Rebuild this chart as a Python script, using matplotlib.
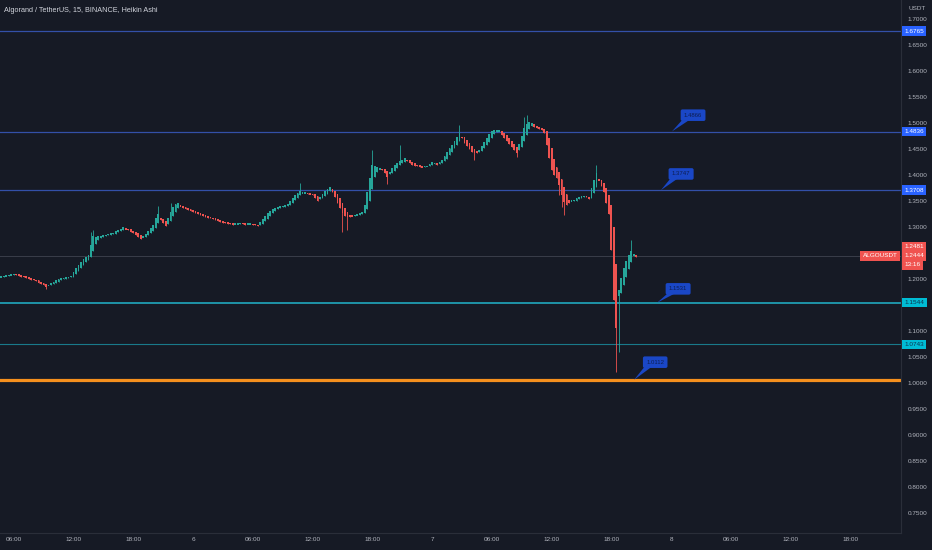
import matplotlib
matplotlib.use("Agg")
import matplotlib.pyplot as plt
import matplotlib.transforms as mtransforms
from matplotlib.patches import Polygon
import numpy as np

plt.rcParams['font.family'] = ['Liberation Sans', 'DejaVu Sans']

# Heikin Ashi closes, one per 15 min candle
ha_close = [
    1.204, 1.206, 1.206, 1.208, 1.208, 1.210, 1.208, 1.206, 1.204, 1.204,
    1.202, 1.200, 1.198, 1.198, 1.196, 1.192, 1.190, 1.188, 1.185, 1.188,
    1.192, 1.194, 1.198, 1.200, 1.202, 1.202, 1.204, 1.204, 1.206, 1.213,
    1.221, 1.227, 1.233, 1.238, 1.242, 1.246, 1.265, 1.283, 1.281, 1.283,
    1.283, 1.285, 1.285, 1.287, 1.287, 1.288, 1.292, 1.294, 1.296, 1.300,
    1.296, 1.294, 1.290, 1.288, 1.285, 1.281, 1.277, 1.281, 1.287, 1.292,
    1.298, 1.304, 1.317, 1.325, 1.313, 1.308, 1.302, 1.317, 1.329, 1.338,
    1.344, 1.346, 1.340, 1.337, 1.335, 1.333, 1.331, 1.329, 1.327, 1.325,
    1.323, 1.321, 1.319, 1.317, 1.317, 1.315, 1.313, 1.312, 1.310, 1.308,
    1.308, 1.306, 1.306, 1.304, 1.306, 1.306, 1.308, 1.306, 1.304, 1.306,
    1.306, 1.304, 1.304, 1.302, 1.310, 1.315, 1.321, 1.327, 1.331, 1.335,
    1.337, 1.338, 1.340, 1.340, 1.342, 1.344, 1.350, 1.356, 1.362, 1.365,
    1.369, 1.365, 1.365, 1.363, 1.363, 1.362, 1.356, 1.350, 1.356, 1.363,
    1.369, 1.373, 1.377, 1.367, 1.358, 1.346, 1.337, 1.327, 1.321, 1.319,
    1.319, 1.321, 1.323, 1.325, 1.327, 1.329, 1.342, 1.367, 1.394, 1.419,
    1.417, 1.415, 1.413, 1.410, 1.404, 1.396, 1.406, 1.413, 1.419, 1.423,
    1.427, 1.429, 1.433, 1.427, 1.423, 1.419, 1.417, 1.417, 1.415, 1.415,
    1.417, 1.417, 1.421, 1.425, 1.423, 1.419, 1.425, 1.429, 1.437, 1.444,
    1.452, 1.458, 1.465, 1.473, 1.481, 1.471, 1.461, 1.456, 1.450, 1.444,
    1.442, 1.442, 1.448, 1.456, 1.463, 1.471, 1.479, 1.485, 1.487, 1.487,
    1.485, 1.477, 1.471, 1.465, 1.460, 1.454, 1.448, 1.442, 1.460, 1.475,
    1.490, 1.498, 1.502, 1.500, 1.492, 1.490, 1.488, 1.487, 1.481, 1.458,
    1.433, 1.410, 1.400, 1.394, 1.381, 1.362, 1.348, 1.342, 1.346, 1.350,
    1.352, 1.356, 1.358, 1.360, 1.360, 1.358, 1.354, 1.375, 1.390, 1.404,
    1.390, 1.379, 1.367, 1.346, 1.325, 1.256, 1.160, 1.106, 1.179, 1.202,
    1.221, 1.235, 1.246, 1.254, 1.248, 1.242,
]

# candles with a visible wick (index: price)
wick_high = {36: 1.290, 37: 1.294, 63: 1.340, 68: 1.346, 120: 1.385, 149: 1.448,
             160: 1.458, 184: 1.496, 210: 1.512, 211: 1.515, 239: 1.419, 253: 1.275}
wick_low = {18: 1.181, 137: 1.290, 139: 1.294, 155: 1.383, 190: 1.429, 207: 1.435,
            224: 1.362, 225: 1.338, 226: 1.323, 247: 1.021, 248: 1.060}

# drawn levels
blue_levels = [1.6765, 1.4836, 1.3708]
cyan_levels = [1.1544, 1.0743]
orange_level = 1.006
last_price = 1.2444
prev_close = 1.2481

callout_text = ["1.4866", "1.3747", "1.1531", "1.0112"]
callout_tip_idx = [269.3, 264.9, 263.4, 254.1]
callout_tip_price = [1.4836, 1.3708, 1.1544, 1.006]
callout_box_idx = [277.8, 273.0, 271.8, 262.6]
callout_box_price = [1.515, 1.402, 1.181, 1.040]

# 1.15 and 1.25 sit under the price boxes, so they show no label
price_ticks = [0.75, 0.80, 0.85, 0.90, 0.95, 1.00, 1.05, 1.10, 1.15, 1.20,
               1.25, 1.30, 1.35, 1.40, 1.45, 1.50, 1.55, 1.60, 1.65, 1.70]
hidden_ticks = [1.15, 1.25]
time_labels = ["06:00", "12:00", "18:00", "6", "06:00", "12:00", "18:00", "7",
               "06:00", "12:00", "18:00", "8", "06:00", "12:00", "18:00"]

bg = '#161a25'
txt = '#b2b5be'
up = '#26a69a'
down = '#ef5350'

# heikin ashi open from the previous candle
close = np.array(ha_close)
opn = np.empty_like(close)
opn[0] = close[0]
for i in range(1, len(close)):
    opn[i] = (opn[i-1] + close[i-1]) / 2
hi = np.maximum(opn, close)
lo = np.minimum(opn, close)
for k, v in wick_high.items():
    hi[k] = max(hi[k], v)
for k, v in wick_low.items():
    lo[k] = min(lo[k], v)
idx = np.arange(len(close))
cols = [up if c >= o else down for o, c in zip(opn, close)]

fig = plt.figure(figsize=(9.32, 5.5), dpi=100, facecolor=bg)
ax = fig.add_axes([0, 17/550, 901/932, 533/550])
ax.set_facecolor(bg)

# levels
for lv in blue_levels:
    ax.axhline(lv, color='#3350a8', lw=0.9, zorder=1)
ax.axhline(cyan_levels[0], color='#1f9db2', lw=1.3, zorder=1)
ax.axhline(cyan_levels[1], color='#19798b', lw=0.8, zorder=1)
ax.axhline(orange_level, color='#f5901e', lw=2.3, zorder=1)
ax.axhline(last_price, color='#3a3e4a', lw=0.7, zorder=1)

# candles
body = np.maximum(np.abs(close - opn), 0.003)
mid = (close + opn) / 2
ax.vlines(idx, lo, hi, colors=cols, lw=0.6, zorder=2)
ax.bar(idx, body, bottom=mid - body / 2, width=0.72, color=cols, lw=0, zorder=3)

# callouts
ppx = 1 / 2.49
ppy = 1 / 520
for t, ti, tp, bi, bp in zip(callout_text, callout_tip_idx, callout_tip_price,
                             callout_box_idx, callout_box_price):
    poly = Polygon([(ti, tp), (bi - 11 * ppx, bp - 5 * ppy), (bi - 4 * ppx, bp - 5 * ppy)],
                   closed=True, fc='#1a47c6', ec='none', zorder=4)
    ax.add_patch(poly)
    ax.text(bi, bp, t, fontsize=4.3, color='#0e1e52', ha='center', va='center', zorder=5,
            bbox=dict(boxstyle='round,pad=0.55,rounding_size=0.3', fc='#1a47c6', ec='none'))

ax.set_xlim(-0.5, 361.3)
ax.set_ylim(0.7115, 1.7365)

for s in ['top', 'left']:
    ax.spines[s].set_visible(False)
for s in ['right', 'bottom']:
    ax.spines[s].set_color('#2a2e39')
    ax.spines[s].set_linewidth(0.8)

ax.yaxis.tick_right()
ax.set_yticks(price_ticks)
ax.set_yticklabels(["" if p in hidden_ticks else "%.4f" % p for p in price_ticks])
ax.set_xticks([5 + 24 * k for k in range(len(time_labels))])
ax.set_xticklabels(time_labels)
ax.tick_params(axis='both', length=0, colors=txt, labelsize=4.6)
ax.tick_params(axis='y', pad=5)
ax.tick_params(axis='x', pad=3)

# right side price boxes
tr = mtransforms.blended_transform_factory(ax.transAxes, ax.transData)
def pbox(price, label, fc, tc, dy=0):
    ax.annotate(label, xy=(1.0, price), xycoords=tr, xytext=(2.5, dy), textcoords='offset points',
                fontsize=4.6, color=tc, ha='left', va='center', annotation_clip=False, zorder=6,
                bbox=dict(boxstyle='square,pad=0.35', fc=fc, ec='none'))

for lv in blue_levels:
    pbox(lv, "%.4f" % lv, '#2962ff', 'white')
for lv in cyan_levels:
    pbox(lv, "%.4f" % lv, '#00bcd4', '#0d3550')
pbox(last_price, "%.4f" % prev_close, '#f05350', 'white', dy=6.5)
pbox(last_price, "%.4f" % last_price, '#f05350', 'white', dy=0)
pbox(last_price, "13:16", '#f05350', 'white', dy=-6.5)
ax.annotate("ALGOUSDT", xy=(1.0, last_price), xycoords=tr, xytext=(-2.5, 0),
            textcoords='offset points', fontsize=4.6, color='white', ha='right', va='center',
            annotation_clip=False, zorder=6,
            bbox=dict(boxstyle='square,pad=0.35', fc='#f05350', ec='none'))

fig.text(917/932, 1 - 8/550, "USDT", fontsize=4.6, color=txt, ha='center', va='center')
fig.text(4/932, 1 - 10/550, "Algorand / TetherUS, 15, BINANCE, Heikin Ashi",
         fontsize=5.2, color='#d1d4dc', ha='left', va='center')

fig.savefig("out.png", dpi=100, facecolor=bg)
